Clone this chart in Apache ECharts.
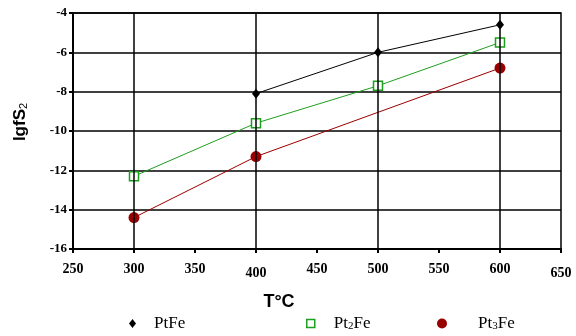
<!DOCTYPE html>
<html>
<head>
<meta charset="utf-8">
<script src="https://cdn.jsdelivr.net/npm/echarts@6/dist/echarts.min.js"></script>
<style>html,body{margin:0;padding:0;background:#fff}#c{width:576px;height:336px}</style>
</head>
<body>
<div id="c"></div>
<script>
// ---- data ----
const temps = [300, 400, 500, 600];
const ptFe = [null, -8.1, -6.0, -4.6];
const pt2Fe = [-12.3, -9.6, -7.7, -5.5];
const pt3FeTemps = [300, 400, 600];
const pt3Fe = [-14.4, -11.3, -6.8];
const gridTemps = [300, 400, 500, 600];
const seriesNames = ['PtFe', 'Pt₂Fe', 'Pt₃Fe'];

function pairs(xs, ys) {
  const out = [];
  xs.forEach((x, i) => { if (ys[i] !== null) out.push([x, ys[i]]); });
  return out;
}
const lowered = new Set([400, 650]);
const serif = '"Liberation Serif", "Times New Roman", serif';
const sans = '"Liberation Sans", Arial, sans-serif';
const legendFmt = n => n.replace('₂', '{s|2}').replace('₃', '{s|3}');
const legendText = (pad) => ({
  fontFamily: serif, fontSize: 17, color: '#000', padding: [0, 0, 0, pad],
  rich: { s: { fontFamily: serif, fontSize: 11, verticalAlign: 'bottom', padding: [6, 0, 0, 0] } }
});

const chart = echarts.init(document.getElementById('c'), null, { renderer: 'canvas' });
chart.setOption({
  animation: false,
  backgroundColor: '#fff',
  grid: { left: 73, right: 15, top: 13, bottom: 87, show: true, borderColor: '#000', borderWidth: 1.5 },
  xAxis: {
    type: 'value', min: 250, max: 650, interval: 50,
    name: 'T°C', nameLocation: 'middle', nameGap: 44,
    nameTextStyle: { fontFamily: sans, fontWeight: 'bold', fontSize: 18, color: '#000', padding: [0, 76, 0, 0] },
    axisLine: { show: true, onZero: false, lineStyle: { color: '#000', width: 2 } },
    axisTick: { show: true, length: 4, lineStyle: { color: '#000', width: 2 } },
    splitLine: { show: false },
    axisLabel: {
      margin: 13, fontFamily: serif, fontWeight: 'bold', fontSize: 14, color: '#000',
      formatter: v => lowered.has(v) ? '{low|' + v + '}' : String(v),
      rich: { low: { fontFamily: serif, fontWeight: 'bold', fontSize: 14, color: '#000', padding: [4, 0, 0, 0] } }
    }
  },
  yAxis: {
    type: 'value', min: -16, max: -4, interval: 2,
    name: '{a|lgfS}{s|2}', nameLocation: 'middle', nameGap: 44,
    nameTextStyle: {
      padding: [0, 0, 0, 18],
      rich: {
        a: { fontFamily: sans, fontWeight: 'bold', fontSize: 17, color: '#000' },
        s: { fontFamily: sans, fontSize: 11, color: '#000', verticalAlign: 'bottom', padding: [6, 0, 0, 0] }
      }
    },
    axisLine: { show: true, onZero: false, lineStyle: { color: '#000', width: 2 } },
    axisTick: { show: true, length: 4, lineStyle: { color: '#000', width: 2 } },
    splitLine: { show: true, lineStyle: { color: '#000', width: 1.5 } },
    axisLabel: { margin: 6, fontFamily: serif, fontWeight: 'bold', fontSize: 13, color: '#000' }
  },
  legend: [
    { data: [{ name: seriesNames[0], icon: 'diamond' }], left: 129, top: 315, padding: 0, itemWidth: 7, itemHeight: 9,
      formatter: legendFmt, textStyle: legendText(13) },
    { data: [{ name: seriesNames[1], icon: 'rect', itemStyle: { color: '#fff', borderColor: '#1e9e1e', borderWidth: 1.5 } }],
      left: 306, top: 315, padding: 0, itemWidth: 8, itemHeight: 8, formatter: legendFmt, textStyle: legendText(14) },
    { data: [{ name: seriesNames[2], icon: 'circle' }], left: 437, top: 315, padding: 0, itemWidth: 10, itemHeight: 10,
      formatter: legendFmt, textStyle: legendText(26) }
  ],
  series: [
    {
      type: 'line', name: 'grid', data: [], z: 1, silent: true,
      markLine: {
        silent: true, symbol: 'none', label: { show: false },
        lineStyle: { color: '#000', width: 1.5, type: 'solid' },
        data: gridTemps.map(t => ({ xAxis: t }))
      }
    },
    {
      type: 'line', name: seriesNames[0], z: 3, data: pairs(temps, ptFe),
      symbol: 'diamond', symbolSize: [8, 10],
      lineStyle: { color: '#000', width: 1 }, itemStyle: { color: '#000' }
    },
    {
      type: 'line', name: seriesNames[1], z: 3, data: pairs(temps, pt2Fe),
      symbol: 'rect', symbolSize: 9,
      lineStyle: { color: '#1e9e1e', width: 1 },
      itemStyle: { color: '#fff', borderColor: '#1e9e1e', borderWidth: 1.5 }
    },
    {
      type: 'line', name: seriesNames[2], z: 3, data: pairs(pt3FeTemps, pt3Fe),
      symbol: 'circle', symbolSize: 11,
      lineStyle: { color: '#990000', width: 1 }, itemStyle: { color: '#990000' }
    }
  ]
});
</script>
</body>
</html>
